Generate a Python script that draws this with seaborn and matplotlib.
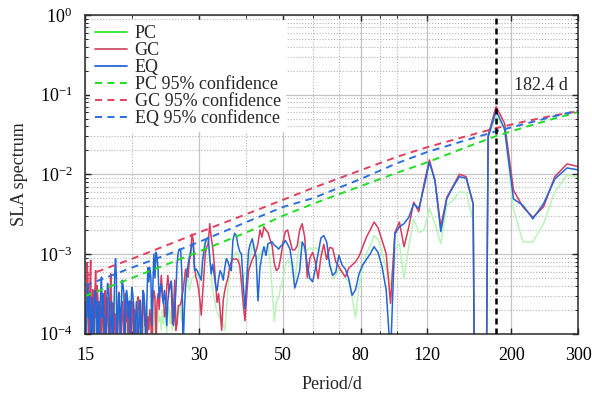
import numpy as np
import pandas as pd
import matplotlib
matplotlib.use("Agg")
import matplotlib.pyplot as plt
import seaborn as sns
from matplotlib.lines import Line2D
from matplotlib.ticker import FixedLocator, FixedFormatter, LogLocator, NullFormatter

# ---------------- data ----------------
# spectral lines on the frequency grid of a ~10-year record: period = RECORD_DAYS / k
RECORD_DAYS = 3648
K_INDEX = np.arange(12, 244)

# log10 of spectral power, ordered by k = 12 ... 243 (long period -> short period)
GC_LOG10 = [
    -1.91, -1.87, -2.03, -2.41, -2.54, -2.41, -2.20, -1.36, -1.15, -1.51,
    -15.0, -2.37, -2.03, -2.00, -2.15, -2.29, -2.66, -2.08, -1.82, -2.12,
    -2.47, -2.35, -2.66, -2.91, -2.60, -2.73, -3.62, -3.00, -2.83, -2.67,
    -2.60, -2.70, -2.79, -2.91, -3.03, -3.10, -3.14, -3.18, -3.29, -3.23,
    -3.16, -3.10, -2.93, -2.92, -3.07, -2.88, -3.04, -3.31, -3.10, -2.98,
    -3.05, -3.30, -2.79, -2.62, -2.70, -2.90, -2.95, -2.95, -2.83, -2.70,
    -2.72, -2.85, -3.04, -3.18, -3.21, -3.12, -2.90, -2.82, -2.73, -2.70,
    -2.66, -2.79, -2.70, -2.87, -2.96, -3.02, -3.07, -3.14, -3.21, -3.50,
    -3.84, -3.63, -3.36, -3.15, -3.08, -3.06, -3.07, -3.06, -3.10, -3.17,
    -3.30, -3.37, -3.46, -3.58, -3.96, -3.71, -3.50, -3.61, -3.37, -3.10,
    -2.91, -2.79, -2.62, -2.87, -2.91, -2.98, -3.25, -3.50, -3.77, -3.58,
    -3.44, -3.35, -3.29, -3.17, -2.83, -2.75, -3.02, -3.08, -3.29, -3.27,
    -3.19, -3.33, -3.46, -3.54, -3.63, -3.65, -3.65, -3.88, -3.96, -3.33,
    -3.71, -3.88, -3.37, -3.42, -3.46, -3.27, -3.42, -3.71, -3.79, -3.58,
    -3.46, -3.27, -3.46, -3.70, -3.50, -3.62, -4.10, -3.55, -3.46, -3.60,
    -4.30, -3.85, -3.70, -3.95, -3.79, -4.20, -3.75, -3.90, -3.62, -3.55,
    -4.25, -3.80, -3.58, -3.70, -3.54, -3.90, -4.40, -3.85, -3.70, -4.05,
    -3.75, -3.60, -4.20, -3.59, -3.75, -4.30, -3.70, -3.85, -3.50, -3.62,
    -4.15, -3.80, -3.60, -3.90, -4.35, -3.72, -3.48, -3.65, -4.10, -3.80,
    -4.40, -3.75, -3.95, -3.62, -4.20, -3.70, -3.25, -3.60, -4.30, -3.85,
    -3.55, -3.80, -4.15, -3.46, -3.70, -4.40, -3.90, -3.65, -3.80, -4.25,
    -3.60, -3.75, -4.10, -3.55, -3.40, -3.80, -3.21, -3.50, -4.30, -3.70,
    -3.45, -3.90, -4.35, -3.08, -3.40, -3.85, -4.20, -3.30, -3.11, -3.60,
    -4.30, -3.70,
]

EQ_LOG10 = [
    -1.95, -1.92, -2.06, -2.37, -2.56, -2.39, -2.31, -1.43, -1.20, -1.53,
    -15.0, -2.37, -2.05, -2.03, -2.16, -2.31, -2.72, -2.08, -1.85, -2.16,
    -2.43, -2.37, -2.54, -2.62, -2.66, -2.75, -4.30, -3.46, -3.16, -2.98,
    -2.91, -3.00, -3.07, -3.14, -3.25, -3.45, -3.52, -3.31, -3.19, -3.14,
    -3.02, -3.23, -3.27, -3.14, -2.85, -2.77, -2.80, -3.00, -3.19, -3.35,
    -3.31, -3.14, -2.91, -2.85, -3.21, -3.33, -3.43, -3.14, -2.94, -2.88,
    -2.83, -2.88, -2.90, -2.94, -2.91, -2.89, -2.85, -2.86, -2.87, -3.02,
    -2.91, -3.02, -3.17, -3.59, -3.04, -2.94, -2.81, -2.87, -2.96, -3.30,
    -3.69, -3.38, -3.00, -2.97, -2.89, -2.77, -2.74, -2.83, -3.21, -3.17,
    -3.10, -3.06, -3.17, -3.33, -3.25, -3.21, -3.31, -3.46, -3.40, -3.25,
    -3.13, -3.25, -3.04, -2.79, -2.81, -2.85, -2.96, -3.08, -3.33, -3.29,
    -3.25, -3.21, -3.19, -3.21, -2.87, -2.89, -2.96, -3.04, -3.14, -3.25,
    -3.42, -3.71, -4.20, -3.25, -2.95, -2.94, -2.98, -3.12, -3.46, -3.71,
    -3.90, -3.59, -3.34, -3.38, -3.46, -3.59, -3.90, -3.59, -3.46, -3.63,
    -3.54, -3.38, -3.42, -3.55, -3.20, -3.04, -2.98, -3.30, -3.00, -3.40,
    -3.90, -3.30, -3.17, -3.35, -3.17, -3.60, -4.30, -3.70, -3.50, -3.46,
    -3.80, -4.20, -3.59, -3.75, -4.35, -3.80, -3.60, -3.90, -4.20, -3.65,
    -3.50, -3.42, -3.70, -4.25, -3.60, -3.80, -3.55, -3.46, -3.75, -4.30,
    -3.50, -3.40, -3.33, -3.60, -4.05, -3.70, -3.50, -3.80, -4.40, -3.30,
    -3.06, -3.25, -3.70, -4.20, -3.85, -3.60, -3.90, -4.35, -3.60, -3.45,
    -3.37, -3.55, -4.10, -3.80, -4.40, -3.70, -3.50, -3.80, -3.29, -3.45,
    -3.70, -4.30, -3.85, -3.60, -4.20, -3.75, -3.50, -3.46, -3.70, -4.35,
    -3.80, -3.55, -3.90, -4.40, -3.65, -3.50, -3.80, -3.40, -3.45, -3.85,
    -4.30, -3.60,
]

PC_LOG10 = [
    -2.04, -2.01, -2.22, -2.62, -2.85, -2.85, -2.43, -1.45, -1.26, -1.55,
    -15.0, -2.58, -2.23, -2.22, -2.33, -2.39, -2.87, -2.62, -2.43, -2.70,
    -2.73, -2.56, -2.90, -3.31, -2.87, -2.95, -3.40, -3.20, -2.97, -2.82,
    -2.77, -2.90, -3.00, -3.18, -3.40, -3.80, -3.54, -3.35, -3.30, -3.22,
    -3.18, -3.27, -3.31, -3.08, -3.05, -3.00, -2.97, -2.95, -2.92, -2.95,
    -2.92, -2.95, -2.98, -2.85, -2.85, -3.10, -3.33, -3.21, -3.10, -3.08,
    -3.15, -3.30, -3.42, -3.55, -3.60, -3.85, -3.44, -3.10, -2.89, -2.92,
    -2.94, -2.96, -3.00, -3.08, -3.00, -2.88, -2.90, -3.00, -3.21, -3.22,
    -3.25, -3.30, -3.38, -3.10, -3.00, -2.98, -3.00, -3.06, -3.13, -3.25,
    -3.42, -3.71, -3.96, -3.90, -3.84, -3.81, -3.77, -3.73, -3.65, -3.54,
    -3.46, -3.25, -3.04, -2.89, -2.86, -2.83, -2.87, -3.04, -3.21, -3.29,
    -3.28, -3.26, -3.25, -3.27, -3.29, -3.31, -3.38, -3.46, -3.33, -3.17,
    -3.29, -3.59, -3.88, -3.84, -3.75, -3.63, -3.79, -3.71, -3.88, -3.63,
    -3.79, -3.96, -3.71, -3.88, -3.67, -3.75, -4.00, -3.79, -3.63, -3.88,
    -3.71, -3.96, -3.79, -3.85, -3.70, -4.00, -3.80, -3.65, -3.90, -4.20,
    -3.75, -3.60, -3.85, -3.95, -3.70, -4.10, -3.80, -3.65, -3.90, -4.30,
    -3.75, -3.60, -3.80, -4.00, -3.70, -3.55, -3.85, -4.20, -3.75, -3.60,
    -3.90, -3.70, -4.10, -3.80, -3.55, -3.75, -4.20, -3.85, -3.65, -3.80,
    -4.00, -3.70, -3.50, -3.80, -4.30, -3.75, -3.60, -3.90, -3.70, -4.15,
    -3.80, -3.55, -3.75, -4.00, -3.70, -3.50, -3.85, -4.25, -3.80, -3.60,
    -3.90, -3.70, -4.00, -3.75, -3.55, -3.85, -4.30, -3.70, -3.50, -3.80,
    -3.60, -3.95, -4.20, -3.70, -3.55, -3.80, -3.60, -4.10, -3.75, -3.50,
    -3.70, -4.00, -3.65, -3.45, -3.80, -4.20, -3.70, -3.50, -3.60, -3.90,
    -3.65, -3.40,
]

# 95% confidence (red-noise) curves, log10 of power
CONF_PERIOD = [15, 20, 25, 30, 40, 50, 60, 80, 100, 120, 150, 182.4, 220, 260, 300]
PC_CONF_LOG10 = [-3.53, -3.30, -3.12, -2.97, -2.73, -2.52, -2.37, -2.15, -1.98, -1.85,
                 -1.67, -1.52, -1.40, -1.30, -1.22]
GC_CONF_LOG10 = [-3.28, -3.06, -2.88, -2.73, -2.50, -2.32, -2.17, -1.95, -1.78, -1.66,
                 -1.53, -1.42, -1.33, -1.26, -1.21]
EQ_CONF_LOG10 = [-3.40, -3.17, -3.00, -2.85, -2.60, -2.41, -2.30, -2.06, -1.86, -1.72,
                 -1.58, -1.46, -1.36, -1.27, -1.20]

PEAK_PERIOD = 182.4
PEAK_LABEL = "182.4 d"
X_TICKS = [15, 30, 50, 80, 120, 200, 300]
SERIES = ["PC", "GC", "EQ"]

# ---------------- tables ----------------
period = RECORD_DAYS / K_INDEX
spec = pd.concat([
    pd.DataFrame({"period": period, "power": 10.0 ** np.array(vals), "series": name})
    for name, vals in zip(SERIES, [PC_LOG10, GC_LOG10, EQ_LOG10])
], ignore_index=True)

conf = pd.concat([
    pd.DataFrame({"period": CONF_PERIOD, "power": 10.0 ** np.array(vals), "series": name})
    for name, vals in zip(SERIES, [PC_CONF_LOG10, GC_CONF_LOG10, EQ_CONF_LOG10])
], ignore_index=True)

# ---------------- style ----------------
sns.set_theme(style="ticks")
plt.rcParams["font.family"] = ["Liberation Serif", "DejaVu Serif"]
plt.rcParams["mathtext.fontset"] = "custom"
plt.rcParams["mathtext.rm"] = "Liberation Serif"
plt.rcParams["mathtext.it"] = "Liberation Serif:italic"
plt.rcParams["axes.unicode_minus"] = True

LINE_COLORS = {"PC": "#b9f5b9", "GC": "#d83b5b", "EQ": "#2366d8"}
LEGEND_COLORS = {"PC": "#2ee82e", "GC": "#d0506a", "EQ": "#2366d8"}
CONF_COLORS = {"PC": "#22dd22", "GC": "#e0405e", "EQ": "#2b6fdc"}
DASH = (3.6, 2.8)

fig = plt.figure(figsize=(5.92, 3.96), dpi=100)
ax = fig.add_axes([0.1436, 0.1578, 0.8328, 0.8042])
ax.set_xscale("log")
ax.set_yscale("log")

sns.lineplot(data=spec, x="period", y="power", hue="series", hue_order=SERIES,
             palette=LINE_COLORS, estimator=None, errorbar=None, lw=1.1,
             legend=False, ax=ax)
sns.lineplot(data=conf, x="period", y="power", hue="series", hue_order=SERIES,
             style="series", style_order=SERIES,
             dashes={s: DASH for s in SERIES},
             palette=CONF_COLORS, estimator=None, errorbar=None, lw=1.4,
             legend=False, ax=ax)

ax.axvline(PEAK_PERIOD, color="black", lw=1.8, ls=(0, (2.4, 1.6)), zorder=5)
ax.text(203, 0.13, PEAK_LABEL, fontsize=13, ha="left", va="center")

ax.set_xlim(15, 300)
ax.set_ylim(1e-4, 1)

ax.xaxis.set_major_locator(FixedLocator(X_TICKS))
ax.xaxis.set_major_formatter(FixedFormatter([str(t) for t in X_TICKS]))
ax.xaxis.set_minor_locator(LogLocator(base=10, subs=np.arange(1, 10), numticks=20))
ax.xaxis.set_minor_formatter(NullFormatter())
ax.yaxis.set_major_locator(LogLocator(base=10, numticks=10))
ax.yaxis.set_minor_locator(LogLocator(base=10, subs=np.arange(2, 10), numticks=20))
ax.yaxis.set_minor_formatter(NullFormatter())

ax.set_axisbelow(True)
ax.grid(which="major", color="#c4c4c4", lw=0.9, ls="-")
ax.grid(which="minor", color="#b4b4b4", lw=0.8, ls=(0, (1, 1.6)))

ax.tick_params(which="both", direction="in", top=True, right=True, colors="#222222",
               labelcolor="black")
ax.tick_params(which="major", length=4, width=1.0, labelsize=13)
ax.tick_params(which="minor", length=2, width=0.7)
ax.tick_params(axis="x", which="major", pad=10)
ax.tick_params(axis="y", which="major", pad=9)
for sp in ax.spines.values():
    sp.set_color("#2a2a2a")
    sp.set_linewidth(1.1)

ax.set_xlabel("Period/d", fontsize=13, labelpad=8)
ax.set_ylabel("SLA spectrum", fontsize=13, labelpad=8)

handles = [Line2D([], [], color=LEGEND_COLORS[s], lw=1.3, label=s) for s in SERIES]
handles += [Line2D([], [], color=CONF_COLORS[s], lw=1.4, ls=(0, DASH),
                   label=f"{s} 95% confidence") for s in SERIES]
leg = ax.legend(handles=handles, loc="upper left", fontsize=13, frameon=True,
                facecolor="white", edgecolor="none", framealpha=1.0,
                borderaxespad=0.25, borderpad=0.3, handlelength=1.75,
                handletextpad=0.45, labelspacing=0.0)
leg.get_frame().set_boxstyle("square", pad=0.0)

fig.savefig("out.png", dpi=100)
